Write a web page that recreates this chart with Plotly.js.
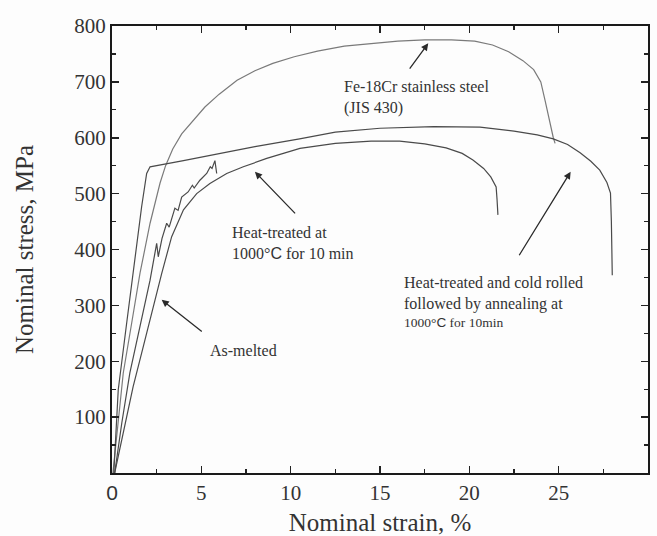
<!DOCTYPE html>
<html>
<head>
<meta charset="utf-8">
<script src="https://cdn.plot.ly/plotly-3.0.1.min.js"></script>
<style>html,body{margin:0;padding:0;background:#fdfdfd;}</style>
</head>
<body>
<div id="chart" style="width:657px;height:536px;"></div>
<script>
// ---- Data ----
const strainFe18Cr = [0.05, 0.63, 1.1, 1.57, 2.13, 2.69, 3.0, 3.4, 3.9, 4.5, 5.2, 6.0, 7.0, 8.0, 9.0, 10.2, 11.5, 13.0, 14.5, 16.0, 17.5, 19.0, 20.3, 21.3, 22.2, 23.0, 23.6, 24.0, 24.25, 24.5, 24.7, 24.8];
const stressFe18Cr = [0, 179, 268, 358, 447, 519, 550, 580, 607, 630, 655, 678, 703, 720, 733, 745, 755, 764, 769, 773, 775, 775, 773, 766, 754, 738, 722, 700, 665, 628, 600, 590];

const strainColdRolled = [0.1, 0.35, 0.82, 1.29, 1.66, 1.94, 2.13, 4, 6, 8, 10.5, 12.5, 15, 18, 20.6, 22.5, 23.8, 24.7, 25.5, 26.2, 26.8, 27.3, 27.7, 27.9, 27.95, 28.0];
const stressColdRolled = [0, 149, 268, 387, 477, 536, 548, 559, 572, 584, 598, 610, 617, 620, 619, 612, 605, 598, 588, 573, 558, 542, 520, 501, 450, 354];

const strainHeatTreated = [0.15, 0.6, 1.18, 1.75, 2.31, 2.78, 3.34, 4.0, 4.74, 5.48, 6.42, 7.35, 8.66, 10.52, 12.5, 14.5, 16.1, 17.5, 18.7, 19.6, 20.2, 20.8, 21.2, 21.5, 21.55, 21.6];
const stressHeatTreated = [0, 70, 154, 226, 298, 357, 423, 471, 500, 518, 536, 548, 563, 581, 590, 594, 594, 589, 582, 572, 560, 545, 530, 512, 490, 462];

const strainAsMelted = [0.15, 0.55, 1.0, 1.57, 2.13, 2.5, 2.59, 2.8, 3.06, 3.2, 3.52, 3.7, 3.9, 4.26, 4.5, 4.6, 4.92, 5.3, 5.5, 5.6, 5.76, 5.86];
const stressAsMelted = [0, 90, 179, 262, 345, 411, 387, 420, 447, 440, 474, 470, 494, 503, 515, 510, 524, 536, 548, 545, 559, 536];

const xTickVals = [0, 5, 10, 15, 20, 25, 30];
const xTickText = ["<span style='font-family:Liberation Sans'>0</span>", "5", "10", "15", "20", "25", "30"];
const yTickVals = [100, 200, 300, 400, 500, 600, 700, 800];
const yTickText = ["100", "200", "300", "400", "500", "600", "700", "800"];

// ---- Chart ----
const serif = "Liberation Serif";
const txt = "#333333";
const lineDark = "#4a4a4a";

function curve(x, y, name, color) {
  return {x: x, y: y, name: name, type: "scatter", mode: "lines",
          line: {color: color, width: 1.2}, hoverinfo: "skip"};
}

const traces = [
  curve(strainFe18Cr, stressFe18Cr, "Fe-18Cr stainless steel (JIS 430)", "#7a7a7a"),
  curve(strainColdRolled, stressColdRolled, "Heat-treated and cold rolled followed by annealing", lineDark),
  curve(strainHeatTreated, stressHeatTreated, "Heat-treated at 1000°C for 10 min", lineDark),
  curve(strainAsMelted, stressAsMelted, "As-melted", lineDark)
];

function arrow(tipX, tipY, tailX, tailY) {
  return {x: tipX, y: tipY, ax: tailX, ay: tailY, xref: "x", yref: "y", axref: "x", ayref: "y",
          showarrow: true, arrowhead: 2, arrowsize: 1.1, arrowwidth: 1.3, arrowcolor: "#2a2a2a", text: ""};
}
function label(x, y, text, size) {
  return {x: x, y: y, xref: "x", yref: "y", text: text, showarrow: false, xanchor: "left", yanchor: "middle",
          align: "left", font: {family: serif, size: size || 16, color: txt}};
}
const sansC = "<span style='font-family:Liberation Sans'>C</span>";

const layout = {
  width: 657, height: 536,
  margin: {l: 112, r: 9, t: 26, b: 63},
  paper_bgcolor: "#fdfdfd", plot_bgcolor: "#fdfdfd",
  showlegend: false,
  font: {family: serif, color: txt},
  xaxis: {
    range: [0, 30], tickmode: "array", tickvals: xTickVals, ticktext: xTickText,
    ticks: "inside", ticklen: 7, tickwidth: 1.5, tickcolor: "#222",
    minor: {tickmode: "linear", tick0: 0, dtick: 2.5, ticks: "inside", ticklen: 4, tickwidth: 1.2, tickcolor: "#222"},
    showline: true, linewidth: 2, linecolor: "#1a1a1a", mirror: "ticks",
    showgrid: false, zeroline: false,
    tickfont: {family: serif, size: 21, color: txt},
    title: {text: "Nominal strain, %", font: {family: serif, size: 25, color: txt}, standoff: 19}
  },
  yaxis: {
    range: [0, 800], tickmode: "array", tickvals: yTickVals, ticktext: yTickText,
    ticks: "inside", ticklen: 7, tickwidth: 1.5, tickcolor: "#222",
    minor: {tickmode: "linear", tick0: 0, dtick: 50, ticks: "inside", ticklen: 4, tickwidth: 1.2, tickcolor: "#222"},
    showline: true, linewidth: 2, linecolor: "#1a1a1a", mirror: "ticks",
    showgrid: false, zeroline: false,
    tickfont: {family: serif, size: 21, color: txt},
    title: {text: "Nominal stress, MPa", font: {family: serif, size: 25, color: txt}, standoff: 34}
  },
  annotations: [
    arrow(17.7, 769, 16.6, 721),
    arrow(8.0, 539, 10.33, 462),
    arrow(2.78, 310, 5.11, 251),
    arrow(25.67, 539, 22.74, 387),
    label(12.87, 672, "Fe-18Cr stainless steel<br>(JIS 430)"),
    label(6.6, 412, "Heat-treated at<br>1000°" + sansC + " for 10 min"),
    label(5.37, 220, "As-melted"),
    label(16.23, 322, "Heat-treated and cold rolled<br>followed by annealing at"),
    label(16.23, 270, "1000°" + sansC + " for 10min", 13.5)
  ]
};

Plotly.newPlot("chart", traces, layout, {displayModeBar: false, staticPlot: true});
</script>
</body>
</html>
